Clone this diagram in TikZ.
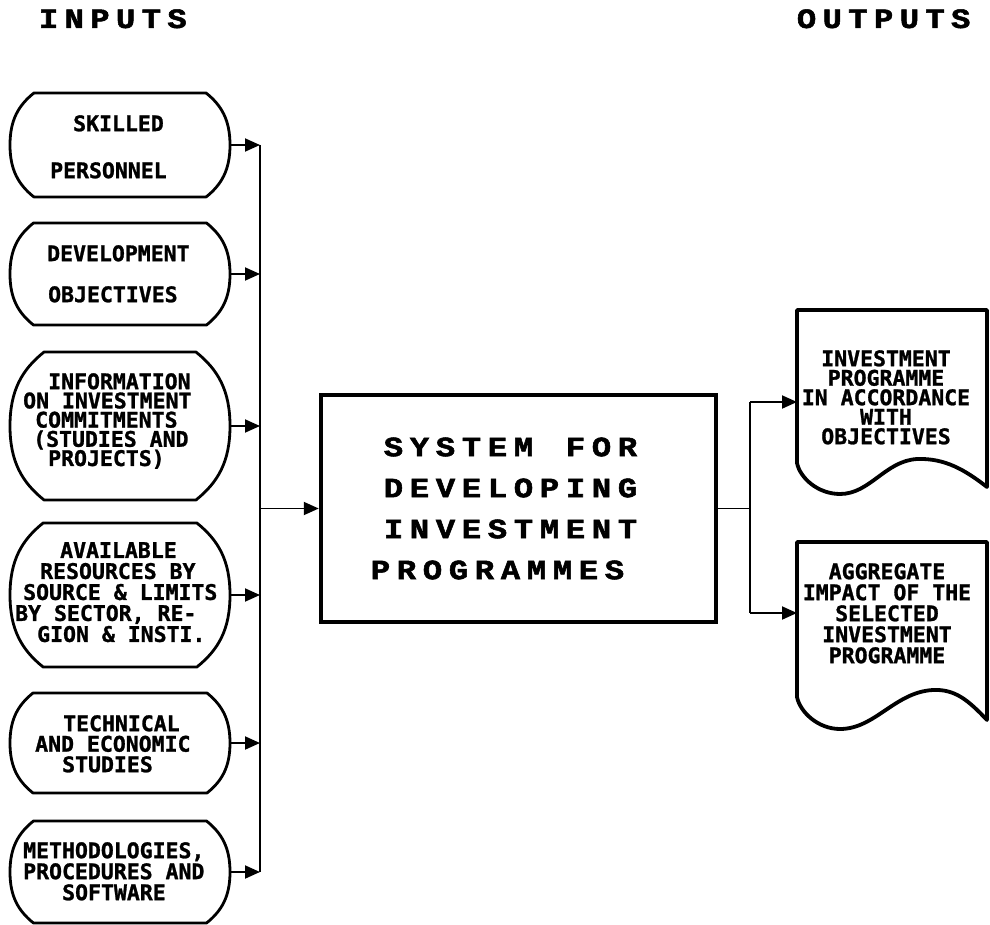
\documentclass[tikz,border=0pt]{standalone}
\usepackage{fontspec}
\usepackage{graphicx}
\usetikzlibrary{arrows.meta,calc}
\newfontfamily\boxfont{DejaVu Sans Mono}[BoldFeatures={FakeBold=1.2}]
\newfontfamily\titlefont{Liberation Mono}[BoldFeatures={FakeBold=1.8}]
% spaced capitals: every character, a little widened, sits in a box of fixed width
\ExplSyntaxOn
\NewDocumentCommand\spread{mm}{\str_map_inline:nn{#2}{\makebox[#1][c]{\scalebox{1.15}[1]{##1}}}}
\ExplSyntaxOff
% one full character cell of the monospaced box font
\newcommand\blk{\hphantom{0}}
\newcommand\ifont[1]{\boxfont\bfseries\fontsize{21.5pt}{#1}\selectfont}
\newcommand\sysfont{\titlefont\bfseries\fontsize{28pt}{41pt}\selectfont}
% input box: rounded-side hexagon between a top and a bottom edge
\newcommand\inbox[3]{%
  \pgfmathsetmacro\ibT{#2}\pgfmathsetmacro\ibB{#3}%
  \pgfmathsetmacro\ibM{(#2+#3)/2}\pgfmathsetmacro\ibH{#3-#2}%
  \pgfmathsetmacro\ibI{0.23*\ibH}%
  \node[slot, minimum height=\ibH pt] (#1) at (120,\ibM) {};
  \draw[inline] (10+\ibI,\ibT) -- (230-\ibI,\ibT)
    .. controls (230-0.35*\ibI,\ibT+0.12*\ibH) and (230,\ibM-0.24*\ibH) .. (230,\ibM)
    .. controls (230,\ibM+0.24*\ibH) and (230-0.35*\ibI,\ibB-0.12*\ibH) .. (230-\ibI,\ibB)
    -- (10+\ibI,\ibB)
    .. controls (10+0.35*\ibI,\ibB-0.12*\ibH) and (10,\ibM+0.24*\ibH) .. (10,\ibM)
    .. controls (10,\ibM-0.24*\ibH) and (10+0.35*\ibI,\ibT+0.12*\ibH) .. cycle;
}
\tikzset{
  slot/.style={draw=none, inner sep=0pt, outer sep=0pt, minimum width=220pt},
  inline/.style={line width=2.8pt, line join=round},
  docline/.style={line width=3.8pt, line join=round},
  conn/.style={line width=1.9pt},
  arr/.style={conn, -{Triangle[length=15pt,width=13pt]}},
  intext/.style={anchor=north west, inner sep=0pt, align=left, text width=220pt},
  outtext/.style={anchor=north, inner sep=0pt, align=center},
  sysbox/.style={draw, line width=4.5pt, minimum width=395pt, minimum height=227pt,
    inner sep=0pt, align=left, text width=300pt, font=\sysfont},
  head/.style={anchor=base west, inner sep=0pt, font=\titlefont\bfseries\fontsize{28pt}{30pt}\selectfont},
}
\begin{document}
\begin{tikzpicture}[x=1pt,y=-1pt]
\useasboundingbox (0,0) rectangle (990,925);
\fill[white] (0,0) rectangle (990,925);

% headings
\node[head] (inlbl) at (35.5,28) {\spread{25.7pt}{INPUTS}};
\node[head] (outlbl) at (793.5,28) {\spread{25.7pt}{OUTPUTS}};

% input boxes
\inbox{in1}{93}{197}
\inbox{in2}{223}{325}
\inbox{in3}{352}{500}
\inbox{in4}{523}{667}
\inbox{in5}{693}{793}
\inbox{in6}{821}{923}

\node[intext, font=\ifont{47pt}] (in1t) at (10,115)
  {\hspace*{63pt}SKILLED\\\hspace*{40pt}PERSONNEL};
\node[intext, font=\ifont{41pt}] (in2t) at (10,245)
  {\hspace*{37pt}DEVELOPMENT\\\hspace*{38pt}OBJECTIVES};
\node[intext, font=\ifont{19.2pt}] (in3t) at (10,373)
  {\hspace*{38pt}INFORMATION\\\hspace*{13pt}ON\blk INVESTMENT\\\hspace*{25pt}COMMITMENTS\\
   \hspace*{23pt}(STUDIES\blk AND\\\hspace*{38pt}PROJECTS)};
\node[intext, font=\ifont{21pt}] (in4t) at (10,542)
  {\hspace*{50pt}AVAILABLE\\\hspace*{30pt}RESOURCES\blk BY\\\hspace*{13pt}SOURCE\blk\&\blk LIMITS\\
   \hspace*{5pt}BY\blk SECTOR,\blk RE-\\\hspace*{27pt}GION\blk\&\blk INSTI.};
\node[intext, font=\ifont{20.5pt}] (in5t) at (10,715)
  {\hspace*{53pt}TECHNICAL\\\hspace*{25pt}AND\blk ECONOMIC\\\hspace*{52pt}STUDIES};
\node[intext, font=\ifont{21pt}] (in6t) at (10,842)
  {\hspace*{13pt}METHODOLOGIES,\\\hspace*{13pt}PROCEDURES\blk AND\\\hspace*{52pt}SOFTWARE};

% collecting bus on the input side
\coordinate (busx) at (260,0);
\foreach \n in {in1,in2,in3,in4,in5,in6}
  \draw[arr] (\n.east) -- (busx |- \n.east);
\draw[conn] (busx |- in1.east) -- (busx |- in6.east);

% central system
\node[sysbox] (sys) at (518.5,508.5)
  {\hspace*{12pt}\spread{26pt}{SYSTEM FOR}\\
   \hspace*{12pt}\spread{26pt}{DEVELOPING}\\
   \hspace*{12pt}\spread{26pt}{INVESTMENT}\\
   \hspace*{-1pt}\spread{26pt}{PROGRAMMES}};
\draw[arr] (busx |- sys.west) -- (sys.west);

% output documents
\node[slot, minimum width=190pt, minimum height=184pt] (doc1) at (892,402) {};
\node[slot, minimum width=190pt, minimum height=142pt] (doc2) at (892,613) {};
\draw[docline] (797,310) -- (987,310) -- (987,487)
  .. controls (965,470) and (945,458) .. (917,459)
  .. controls (885,461) and (870,494) .. (840,494)
  .. controls (818,494) and (800,478) .. (797,463) -- cycle;
\draw[docline] (797,542) -- (987,542) -- (987,720)
  .. controls (968,700) and (955,689) .. (933,690)
  .. controls (895,692) and (875,729) .. (840,729)
  .. controls (818,729) and (800,712) .. (797,697) -- cycle;
\node[outtext, font=\ifont{19.5pt}] (doc1t) at (886,350)
  {INVESTMENT\\PROGRAMME\\IN\blk ACCORDANCE\\WITH\\OBJECTIVES};
\node[outtext, font=\ifont{21pt}] (doc2t) at (887,563)
  {AGGREGATE\\IMPACT\blk OF\blk THE\\SELECTED\\INVESTMENT\\PROGRAMME};

% distribution to the outputs
\coordinate (ox) at (750,0);
\draw[conn] (sys.east) -- (ox |- sys.east);
\draw[conn] (ox |- doc1.west) -- (ox |- doc2.west);
\draw[arr] (ox |- doc1.west) -- (doc1.west);
\draw[arr] (ox |- doc2.west) -- (doc2.west);
\end{tikzpicture}
\end{document}
